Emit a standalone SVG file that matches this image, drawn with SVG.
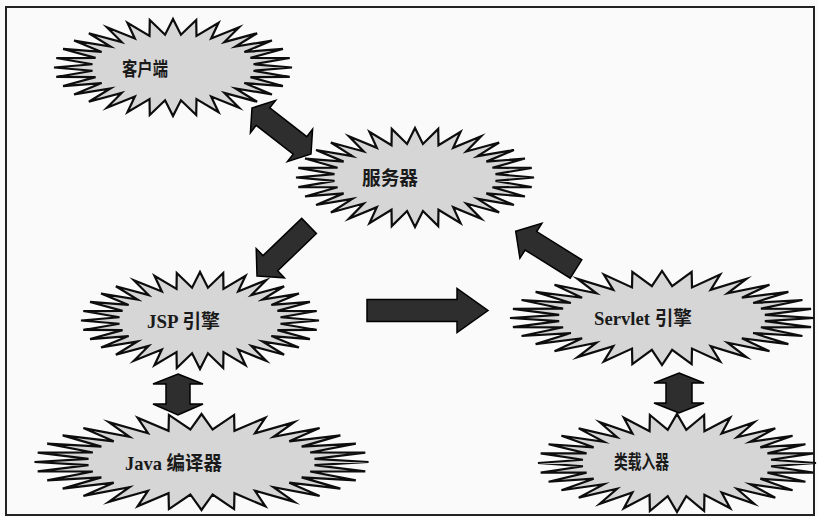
<svg xmlns="http://www.w3.org/2000/svg" width="818" height="517" viewBox="0 0 818 517">
<style>
.star{fill:#d6d6d6;stroke:#0d0d0d;stroke-width:2.2;vector-effect:non-scaling-stroke;stroke-linejoin:miter;stroke-miterlimit:6}
.lbl{font-family:"Liberation Serif","Noto Sans CJK SC",serif;font-size:19px;font-weight:700;fill:#1a1a1a}
.arr{fill:#2e2e2e;stroke:#000;stroke-width:1.5;stroke-linejoin:miter}
</style>
<defs>
<polygon id="star" class="star" points="1,0 .6767,.0667 .9808,.1951 .6507,.1974 .9239,.3827 .5997,.3206 .8315,.5556 .5256,.4314 .7071,.7071 .4314,.5256 .5556,.8315 .3206,.5997 .3827,.9239 .1974,.6507 .1951,.9808 .0667,.6767 0,1 -.0667,.6767 -.1951,.9808 -.1974,.6507 -.3827,.9239 -.3206,.5997 -.5556,.8315 -.4314,.5256 -.7071,.7071 -.5256,.4314 -.8315,.5556 -.5997,.3206 -.9239,.3827 -.6507,.1974 -.9808,.1951 -.6767,.0667 -1,0 -.6767,-.0667 -.9808,-.1951 -.6507,-.1974 -.9239,-.3827 -.5997,-.3206 -.8315,-.5556 -.5256,-.4314 -.7071,-.7071 -.4314,-.5256 -.5556,-.8315 -.3206,-.5997 -.3827,-.9239 -.1974,-.6507 -.1951,-.9808 -.0667,-.6767 0,-1 .0667,-.6767 .1951,-.9808 .1974,-.6507 .3827,-.9239 .3206,-.5997 .5556,-.8315 .4314,-.5256 .7071,-.7071 .5256,-.4314 .8315,-.5556 .5997,-.3206 .9239,-.3827 .6507,-.1974 .9808,-.1951 .6767,-.0667"/>
</defs>
<rect x="0" y="0" width="818" height="517" fill="#fafafa"/>
<rect x="6" y="7" width="808" height="508" fill="none" stroke="#222" stroke-width="2"/>
<g id="node-client">
<use href="#star" transform="translate(173 67.5) scale(119 48.5)"/>
<text class="lbl" x="122" y="76" textLength="46" lengthAdjust="spacingAndGlyphs">客户端</text>
</g>
<g id="node-server">
<use href="#star" transform="translate(415 177.5) scale(119 49.5)"/>
<text class="lbl" x="362" y="185" textLength="56" lengthAdjust="spacingAndGlyphs">服务器</text>
</g>
<g id="node-jsp">
<use href="#star" transform="translate(200 320.5) scale(119 48.5)"/>
<text class="lbl" x="147" y="328" textLength="73" lengthAdjust="spacingAndGlyphs">JSP 引擎</text>
</g>
<g id="node-javac">
<use href="#star" transform="translate(201.5 462) scale(167 48)"/>
<text class="lbl" x="125" y="470" textLength="97" lengthAdjust="spacingAndGlyphs">Java 编译器</text>
</g>
<g id="node-servlet">
<use href="#star" transform="translate(662 318) scale(152 47)"/>
<text class="lbl" x="594" y="325" textLength="98" lengthAdjust="spacingAndGlyphs">Servlet 引擎</text>
</g>
<g id="node-classloader">
<use href="#star" transform="translate(677 463) scale(139 49)"/>
<text class="lbl" x="614" y="469" textLength="55" lengthAdjust="spacingAndGlyphs">类载入器</text>
</g>
<g id="connectors">
<polygon class="arr" points="252,108 275.6,100.4 269.8,107.9 306.8,136.7 312.6,129.2 311,154 287.4,161.6 293.2,154.1 256.2,125.3 250.4,132.8"/>
<polygon class="arr" points="257,276 284.4,277.8 277.7,270.8 316.4,233.6 301.7,218.4 263,255.6 256.2,248.6"/>
<polygon class="arr" points="515.7,231.2 541.9,223.4 536.7,231.6 581.8,259.8 570.2,278.2 525.1,250 519.9,258.2"/>
<polygon class="arr" points="367,299.5 457,299.5 457,288.5 488,310.5 457,332.5 457,321.5 367,321.5"/>
<polygon class="arr" points="178,374 203,384 190,384 190,404 203,404 178,415 153,404 166,404 166,384 153,384"/>
<polygon class="arr" points="679,373 704,383 692,383 692,403 704,403 679,413 654,403 666,403 666,383 654,383"/>
</g>
</svg>
